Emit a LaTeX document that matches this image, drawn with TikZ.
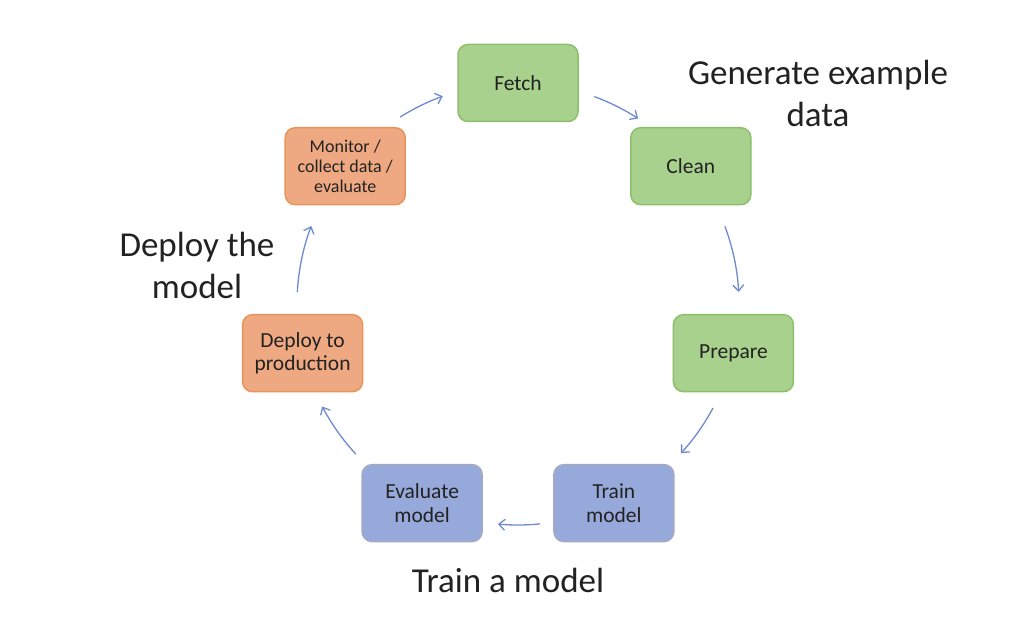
\documentclass[tikz,border=0pt]{standalone}
\usepackage{fontspec}
\setmainfont{Carlito}
\usetikzlibrary{arrows.meta,calc}
\definecolor{gfill}{HTML}{A9D18E}
\definecolor{gdraw}{HTML}{8DBF6A}
\definecolor{ofill}{HTML}{EFA982}
\definecolor{odraw}{HTML}{E8935A}
\definecolor{bfill}{HTML}{97A9DA}
\definecolor{bdraw}{HTML}{A3AAC2}
\definecolor{arrcol}{HTML}{6F8BD0}
\definecolor{txt}{HTML}{222222}
\tikzset{
  stagebox/.style={rounded corners=10pt, minimum width=120pt, minimum height=77pt,
    line width=1.5pt, align=center, text=txt, inner sep=2pt,
    font=\fontsize{21.5}{23.5}\selectfont},
  greenbox/.style={stagebox, fill=gfill, draw=gdraw},
  orangebox/.style={stagebox, fill=ofill, draw=odraw},
  bluebox/.style={stagebox, fill=bfill, draw=bdraw},
  biglabel/.style={align=center, text=txt, inner sep=0pt,
    font=\fontsize{35}{42}\selectfont},
  arr/.style={draw=arrcol, line width=1.3pt, -{Straight Barb[length=6pt,width=11pt]}, looseness=0.85}
}
\begin{document}
\begin{tikzpicture}[x=1pt,y=1pt]
\useasboundingbox (0,0) rectangle (1024,633);
\fill[white] (0,0) rectangle (1024,633);
\coordinate (O) at (518,329);
\node[greenbox] (fetch) at ($(O)+(90:221)$) {Fetch};
\node[greenbox] (clean) at ($(O)+(38.571:221)$) {Clean};
\node[greenbox] (prepare) at ($(O)+(-12.857:221)$) {Prepare};
\node[bluebox] (train) at ($(O)+(-64.286:221)$) {Train\\model};
\node[bluebox] (evaluate) at ($(O)+(-115.714:221)$) {Evaluate\\model};
\node[orangebox] (deploy) at ($(O)+(-167.143:221)$) {Deploy to\\production};
\node[orangebox, font=\fontsize{18}{20}\selectfont] (monitor) at ($(O)+(141.429:221)$) {Monitor /\\collect data /\\evaluate};

\draw[arr] ($(O)!1!-20.2:(fetch)$) to[bend left=6.35] ($(O)!1!18.5:(clean)$);
\draw[arr] ($(O)!1!-18:(clean)$) to[bend left=8.75] ($(O)!1!16:(prepare)$);
\draw[arr] ($(O)!1!-15.2:(prepare)$) to[bend left=7.2] ($(O)!1!21.8:(train)$);
\draw[arr] ($(O)!1!-20:(train)$) to[bend left=5.45] ($(O)!1!20.5:(evaluate)$);
\draw[arr] ($(O)!1!-21.5:(evaluate)$) to[bend left=7.55] ($(O)!1!14.8:(deploy)$);
\draw[arr] ($(O)!1!-16:(deploy)$) to[bend left=8.8] ($(O)!1!17.9:(monitor)$);
\draw[arr] ($(O)!1!-19.2:(monitor)$) to[bend left=6.15] ($(O)!1!19.9:(fetch)$);

\node[biglabel] (gen) at (818,540) {Generate example\\data};
\node[biglabel] (dep) at (197,368) {Deploy the\\model};
\node[biglabel] (trn) at (508,53) {Train a model};
\end{tikzpicture}
\end{document}
